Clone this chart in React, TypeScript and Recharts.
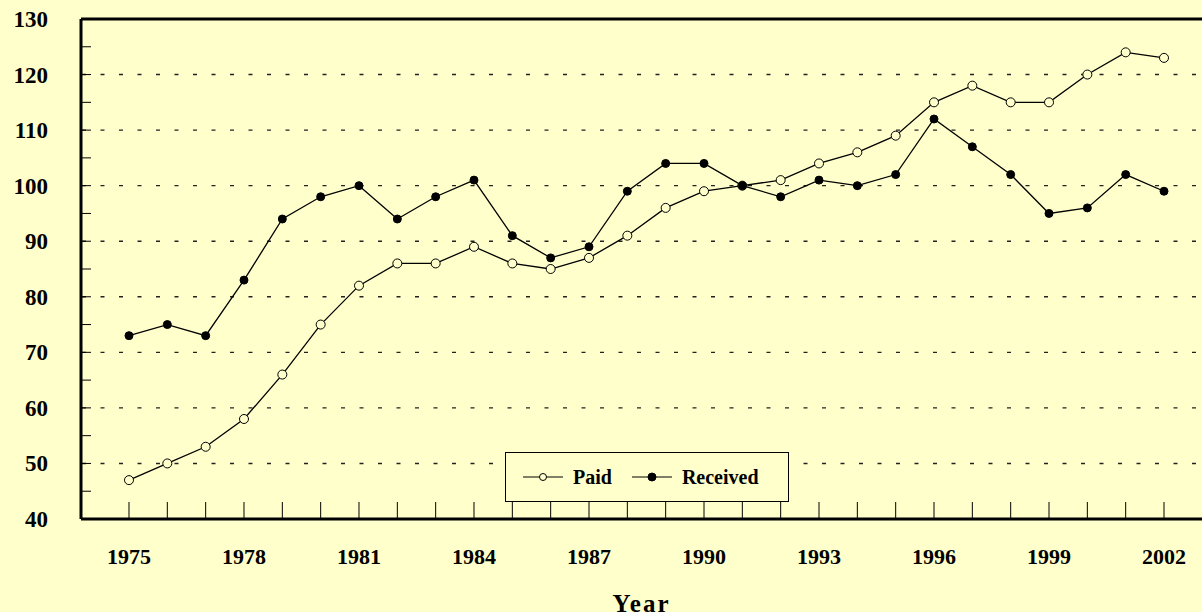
import { Legend, Line, LineChart, ReferenceLine, XAxis, YAxis } from 'recharts'

const years = [
  1975, 1976, 1977, 1978, 1979, 1980, 1981, 1982, 1983, 1984, 1985, 1986, 1987, 1988,
  1989, 1990, 1991, 1992, 1993, 1994, 1995, 1996, 1997, 1998, 1999, 2000, 2001, 2002,
]
const paid = [
  47, 50, 53, 58, 66, 75, 82, 86, 86, 89, 86, 85, 87, 91,
  96, 99, 100, 101, 104, 106, 109, 115, 118, 115, 115, 120, 124, 123,
]
const received = [
  73, 75, 73, 83, 94, 98, 100, 94, 98, 101, 91, 87, 89, 99,
  104, 104, 100, 98, 101, 100, 102, 112, 107, 102, 95, 96, 102, 99,
]
const yTicks = [40, 45, 50, 55, 60, 65, 70, 75, 80, 85, 90, 95, 100, 105, 110, 115, 120, 125, 130]
const gridLines = [50, 60, 70, 80, 90, 100, 110, 120]

const data = years.map((year, i) => ({ year, paid: paid[i], received: received[i] }))

const BG = '#FFFFCC'
const FONT = '"Liberation Serif", "Times New Roman", serif'

function XTick({ x, y, payload }: any) {
  const yr = payload.value as number
  return (
    <g>
      <line x1={x} y1={y - 17} x2={x} y2={y} stroke="#000" strokeWidth={1} />
      {(yr - 1975) % 3 === 0 && (
        <text x={x} y={y + 45} textAnchor="middle" fontFamily={FONT} fontWeight="bold" fontSize={22} fill="#000">
          {yr}
        </text>
      )}
    </g>
  )
}

function YTick({ x, y, payload }: any) {
  const v = payload.value as number
  return (
    <g>
      {v > 40 && v < 130 && <line x1={x} y1={y} x2={x + 10} y2={y} stroke="#000" strokeWidth={1} />}
      {v % 10 === 0 && (
        <text x={x - 33} y={y} dy="0.35em" textAnchor="end" fontFamily={FONT} fontWeight="bold" fontSize={23} fill="#000">
          {v}
        </text>
      )}
    </g>
  )
}

function LegendBox() {
  const item = (label: string, filled: boolean) => (
    <div style={{ display: 'flex', alignItems: 'center', marginRight: 8 }}>
      <svg width={52} height={12}>
        <line x1={2} y1={6} x2={42} y2={6} stroke="#000" strokeWidth={1} />
        <circle cx={22} cy={6} r={filled ? 4 : 3.5} fill={filled ? '#000' : BG} stroke="#000" strokeWidth={1} />
      </svg>
      <span style={{ fontFamily: FONT, fontWeight: 'bold', fontSize: 20 }}>{label}</span>
    </div>
  )
  return (
    <div
      style={{
        boxSizing: 'border-box',
        width: 284,
        height: 50,
        border: '1px solid #000',
        background: BG,
        display: 'flex',
        alignItems: 'center',
        paddingLeft: 15,
      }}
    >
      {item('Paid', false)}
      <div style={{ width: 10 }} />
      {item('Received', true)}
    </div>
  )
}

export default function App() {
  return (
    <div style={{ position: 'absolute', left: 0, top: 0, width: 1202, height: 612, background: BG, overflow: 'hidden' }}>
      <LineChart width={1202} height={612} data={data} margin={{ top: 19, right: 0, bottom: 0, left: 0 }}>
        <XAxis
          dataKey="year"
          type="number"
          domain={[1973.748, 2002.991]}
          allowDataOverflow
          ticks={years}
          interval={0}
          height={93}
          tickSize={0}
          tickMargin={0}
          tickLine={false}
          tick={<XTick />}
          axisLine={{ stroke: '#000', strokeWidth: 3 }}
          label={{
            value: 'Year',
            position: 'insideBottom',
            offset: 0,
            fontFamily: FONT,
            fontWeight: 'bold',
            fontSize: 25,
            letterSpacing: 2,
            fill: '#000',
          }}
        />
        <YAxis
          type="number"
          domain={[40, 130]}
          ticks={yTicks}
          interval={0}
          width={81}
          tickSize={0}
          tickMargin={0}
          tickLine={false}
          tick={<YTick />}
          axisLine={{ stroke: '#000', strokeWidth: 3 }}
        />
        {gridLines.map((v) => (
          <ReferenceLine key={v} y={v} stroke="#222" strokeWidth={1.4} strokeDasharray="4 14.5" strokeDashoffset={-1} />
        ))}
        <ReferenceLine y={130} stroke="#000" strokeWidth={3} />
        <Legend
          layout="horizontal"
          verticalAlign="middle"
          align="center"
          content={() => <LegendBox />}
          wrapperStyle={{ left: 505, top: 452, width: 284, height: 50 }}
        />
        <Line
          dataKey="paid"
          stroke="#000"
          strokeWidth={1.3}
          dot={{ r: 4.5, fill: BG, stroke: '#000', strokeWidth: 1 }}
          isAnimationActive={false}
        />
        <Line
          dataKey="received"
          stroke="#000"
          strokeWidth={1.3}
          dot={{ r: 4, fill: '#000', stroke: '#000', strokeWidth: 1 }}
          isAnimationActive={false}
        />
      </LineChart>
    </div>
  )
}
